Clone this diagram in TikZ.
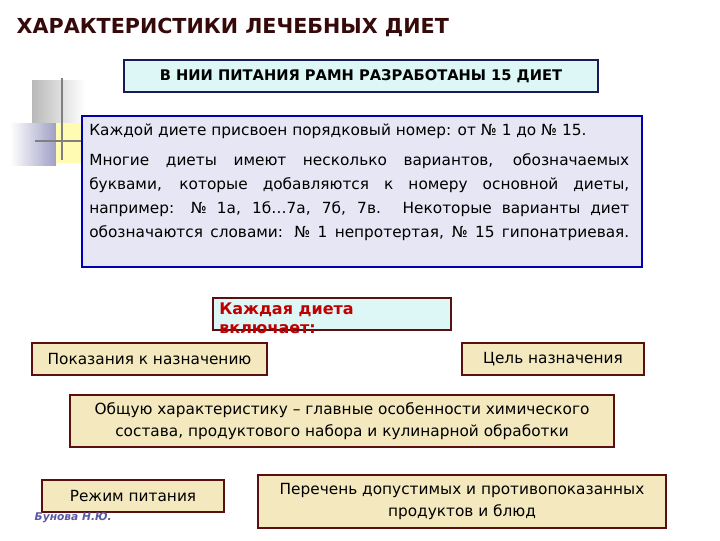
\documentclass[tikz,border=0pt]{standalone}
\usepackage{fontspec}
\setmainfont{DejaVu Sans}
\begin{document}
\begin{tikzpicture}[x=0.75pt,y=-0.75pt,
  beige/.style={draw=maroon,line width=1.5pt,fill=beigec},
  txt/.style={font=\fontsize{11.5}{16.5}\selectfont,align=center}]
\definecolor{maroon}{HTML}{5A1010}
\definecolor{beigec}{HTML}{F3E8BE}
\definecolor{cyanc}{HTML}{DDF7F7}
\definecolor{lav}{HTML}{E6E6F4}
\definecolor{navy}{HTML}{1A1A5A}
\useasboundingbox (0,0) rectangle (720,540);
\fill[white] (0,0) rectangle (720,540);
% decoration
\shade[left color=gray!55,right color=white] (32,80) rectangle (85,128);
\shade[left color=white,right color=blue!25!gray!60] (10,123) rectangle (56,165);
\fill[yellow!30] (56,123) rectangle (82,163);
\draw[gray,line width=1.5pt] (62,78) -- (62,160);
\draw[gray,line width=1.5pt] (35,141) -- (82,141);
\node[anchor=west,font=\bfseries\fontsize{15.5}{18}\selectfont,text=maroon!60!black] (title) at (12,27) {ХАРАКТЕРИСТИКИ ЛЕЧЕБНЫХ ДИЕТ};
\node[draw=navy,line width=1.5pt,fill=cyanc,minimum width=355pt,minimum height=24pt,font=\bfseries\fontsize{11}{13}\selectfont] (hdr) at (361,76) {В НИИ ПИТАНИЯ РАМН РАЗРАБОТАНЫ 15 ДИЕТ};
\node[draw=blue!70!black,line width=1.5pt,fill=lav,minimum width=420pt,minimum height=113pt] (main) at (362,191.5) {};
\node[anchor=north west,font=\fontsize{11.5}{18}\selectfont,align=left,inner sep=0pt] (mt) at (89,124) {Каждой диете присвоен порядковый номер: от № 1 до № 15.\\[4pt]
\makebox[405pt][s]{Многие диеты имеют несколько вариантов, обозначаемых}\\
\makebox[405pt][s]{буквами, которые добавляются к номеру основной диеты,}\\
\makebox[405pt][s]{например: № 1а, 1б…7а, 7б, 7в. Некоторые варианты диет}\\
\makebox[405pt][s]{обозначаются словами: № 1 непротертая, № 15 гипонатриевая.}};
\node[draw=maroon,line width=1.5pt,fill=cyanc,minimum width=178pt,minimum height=24pt] (each) at (332,314) {};
\node[anchor=north west,align=left,inner sep=0pt,text=red!75!black,font=\bfseries\fontsize{12}{14}\selectfont] (eacht) at (219,303) {Каждая диета\\включает:};
\node[beige,txt,minimum width=176pt,minimum height=24pt] (pok) at (149.5,359) {Показания к назначению};
\node[beige,txt,minimum width=136pt,minimum height=24pt] (goal) at (553,359) {Цель назначения};
\node[beige,txt,minimum width=408pt,minimum height=39pt] (gen) at (342,421) {Общую характеристику – главные особенности химического\\состава, продуктового набора и кулинарной обработки};
\node[beige,txt,minimum width=136pt,minimum height=24pt] (mode) at (133,496) {Режим питания};
\node[beige,txt,minimum width=306pt,minimum height=40pt,anchor=north] (list) at (462,474) {Перечень допустимых и противопоказанных\\продуктов и блюд};
\node[anchor=west,font=\itshape\bfseries\fontsize{8}{9}\selectfont,text=blue!30!gray] (auth) at (30,518) {Бунова Н.Ю.};
\end{tikzpicture}
\end{document}
